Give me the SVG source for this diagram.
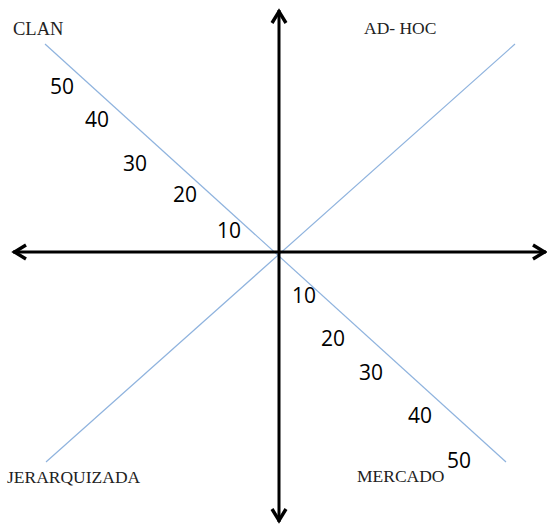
<svg xmlns="http://www.w3.org/2000/svg" width="547" height="525" viewBox="0 0 547 525">
  <style>
    .axis { stroke: #000; stroke-width: 3; fill: none; }
    .diag { stroke: #8fb3de; stroke-width: 1.2; fill: none; }
    .num { font-family: "Open Sans", "Liberation Sans", sans-serif; font-size: 21px; fill: #000; }
    .lbl { font-family: "Liberation Serif", "Times New Roman", serif; font-size: 17.5px; fill: #222; }
  </style>
  <defs>
    <marker id="chev" viewBox="-18 -10 20 20" refX="0" refY="0" markerWidth="20" markerHeight="20" markerUnits="userSpaceOnUse" orient="auto">
      <path d="M-13,-7 L-1.5,0 L-13,7" fill="none" stroke="#000" stroke-width="3.4" stroke-linejoin="miter"/>
    </marker>
  </defs>
  <rect width="547" height="525" fill="#fff"/>
  <g id="connectors">
    <line class="diag" x1="45" y1="44" x2="506" y2="462"/>
    <line class="diag" x1="515" y1="44" x2="46" y2="462"/>
    <line class="axis" x1="279" y1="252" x2="279" y2="10" marker-end="url(#chev)"/>
    <line class="axis" x1="279" y1="252" x2="279" y2="522" marker-end="url(#chev)"/>
    <line class="axis" x1="279" y1="252" x2="13" y2="252" marker-end="url(#chev)"/>
    <line class="axis" x1="279" y1="252" x2="546" y2="252" marker-end="url(#chev)"/>
  </g>
  <g id="clan"><text class="lbl" x="13" y="35" style="font-size:18.5px">CLAN</text></g>
  <g id="adhoc"><text class="lbl" x="364" y="34">AD- HOC</text></g>
  <g id="jerarquizada"><text class="lbl" x="7" y="483">JERARQUIZADA</text></g>
  <g id="mercado"><text class="lbl" x="357" y="482">MERCADO</text></g>
  <g id="scale-clan">
    <text class="num" x="50" y="94">50</text>
    <text class="num" x="85" y="127">40</text>
    <text class="num" x="123" y="171">30</text>
    <text class="num" x="173" y="202">20</text>
    <text class="num" x="217" y="238">10</text>
  </g>
  <g id="scale-mercado">
    <text class="num" x="292" y="303">10</text>
    <text class="num" x="321" y="346">20</text>
    <text class="num" x="359" y="380">30</text>
    <text class="num" x="408" y="423">40</text>
    <text class="num" x="447" y="468">50</text>
  </g>
</svg>
